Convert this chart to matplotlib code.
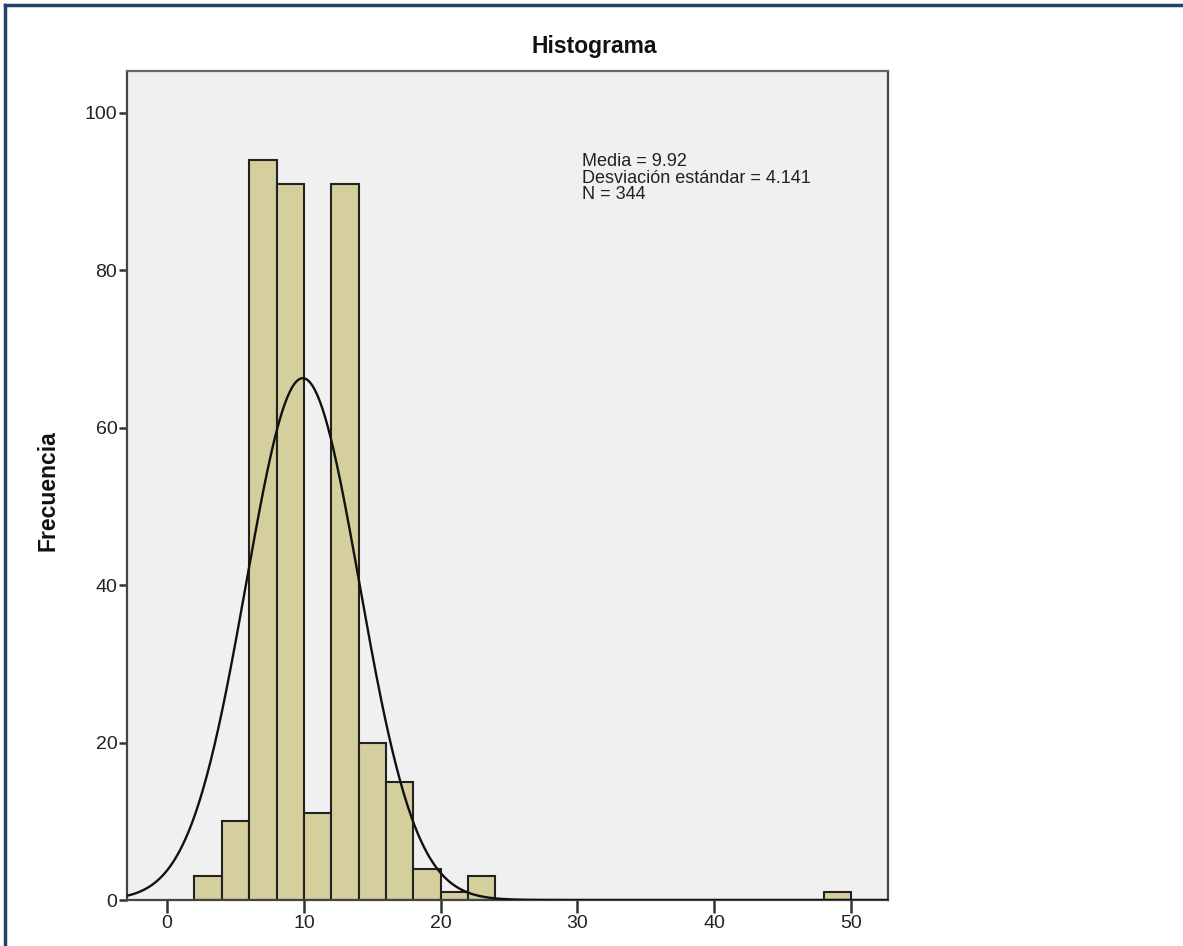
import numpy as np
import matplotlib
matplotlib.use("Agg")
from matplotlib import pyplot as plt
from matplotlib.lines import Line2D

plt.rcParams["font.family"] = ["Liberation Sans", "DejaVu Sans"]

# histogram data (bin width 2)
bin_left = [2, 4, 6, 8, 10, 12, 14, 16, 18, 20, 22, 48]
counts = [3, 10, 94, 91, 11, 91, 20, 15, 4, 1, 3, 1]
bin_width = 2
media = 9.92
desv = 4.141
n_total = 344
x_ticks = [0, 10, 20, 30, 40, 50]
y_ticks = [0, 20, 40, 60, 80, 100]

W, H = 1183, 946
fig = plt.figure(figsize=(W / 100, H / 100), dpi=100)
fig.patch.set_facecolor("white")

# axes placed in pixel positions
left, right, top, bottom = 127, 888, 71, 900
ax = fig.add_axes([left / W, 1 - bottom / H, (right - left) / W, (bottom - top) / H])
ax.set_facecolor("#f0f0f0")

ax.bar(bin_left, counts, width=bin_width, align="edge",
       color="#d4cf9c", edgecolor="#222222", linewidth=1.5, zorder=2)

# normal curve scaled to the counts
xs = np.linspace(-2.93, 52.7, 600)
ys = n_total * bin_width / (desv * np.sqrt(2 * np.pi)) * np.exp(-0.5 * ((xs - media) / desv) ** 2)
ax.plot(xs, ys, color="#111111", linewidth=1.7, zorder=3)

ax.set_xlim(-2.93, 52.7)
ax.set_ylim(0, 105.3)
ax.set_xticks(x_ticks)
ax.set_yticks(y_ticks)
ax.tick_params(axis="both", direction="out", length=9, width=1.8, color="#333333",
               labelsize=14, labelcolor="#222222", pad=2)
ax.tick_params(axis="y", length=6, pad=1)
for s in ax.spines.values():
    s.set_color("#444444")
    s.set_linewidth(1.6)
ax.spines["top"].set_color("#666666")

fig.text(48 / W, 1 - 491 / H, "Frecuencia", rotation=90, ha="center", va="center",
         fontsize=16.5, fontweight="bold", color="#111111")

fig.text(594 / W, 1 - 46 / H, "Histograma", ha="center", va="center",
         fontsize=16.5, fontweight="bold", color="#111111")

stats = "Media = {:.2f}\nDesviación estándar = {:.3f}\nN = {}".format(media, desv, n_total)
fig.text(582 / W, 1 - 153 / H, stats, ha="left", va="top", fontsize=13,
         linespacing=0.98, color="#222222")

# dark blue frame (only top and left edges visible in the crop)
fig.add_artist(Line2D([5 / W, 1], [1 - 5 / H, 1 - 5 / H], transform=fig.transFigure,
                      color="#23406e", linewidth=2.5))
fig.add_artist(Line2D([5 / W, 5 / W], [0, 1 - 5 / H], transform=fig.transFigure,
                      color="#23406e", linewidth=2.5))

fig.savefig("out.png", dpi=100)
